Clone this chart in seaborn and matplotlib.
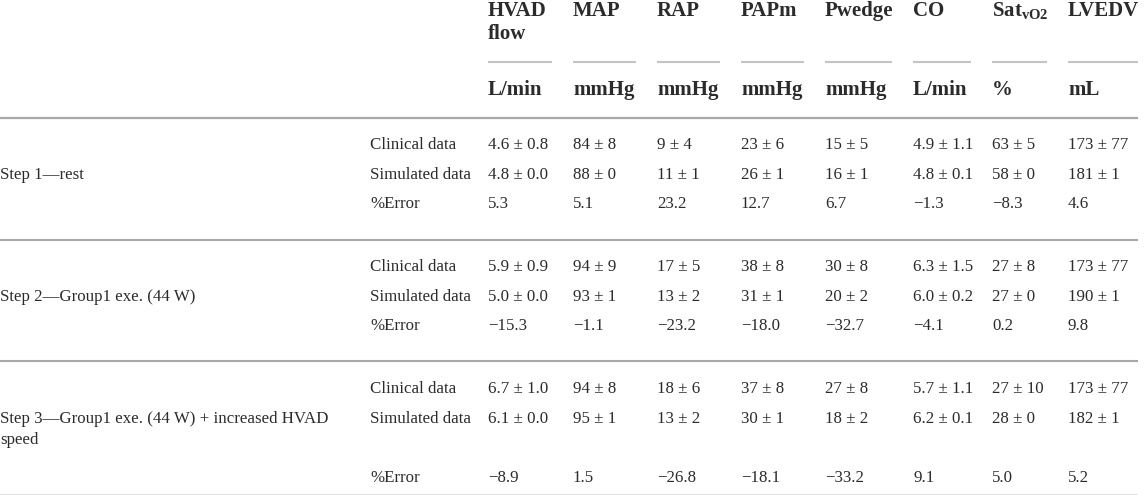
import matplotlib
matplotlib.use("Agg")
import matplotlib.pyplot as plt
import seaborn as sns

# column headers and units
columns = ["HVAD\nflow", "MAP", "RAP", "PAPm", "Pwedge", "CO", r"Sat$_{\mathbf{vO2}}$", "LVEDV"]
units = ["L/min", "mmHg", "mmHg", "mmHg", "mmHg", "L/min", "%", "mL"]
decimals = [1, 0, 0, 0, 0, 1, 0, 0]

steps = ["Step 1\u2014rest",
         "Step 2\u2014Group1 exe. (44 W)",
         "Step 3\u2014Group1 exe. (44 W) + increased HVAD\nspeed"]
row_labels = ["Clinical data", "Simulated data", "%Error"]

step1_clin_mean = [4.6, 84, 9, 23, 15, 4.9, 63, 173]
step1_clin_sd = [0.8, 8, 4, 6, 5, 1.1, 5, 77]
step1_sim_mean = [4.8, 88, 11, 26, 16, 4.8, 58, 181]
step1_sim_sd = [0.0, 0, 1, 1, 1, 0.1, 0, 1]
step1_err = [5.3, 5.1, 23.2, 12.7, 6.7, -1.3, -8.3, 4.6]

step2_clin_mean = [5.9, 94, 17, 38, 30, 6.3, 27, 173]
step2_clin_sd = [0.9, 9, 5, 8, 8, 1.5, 8, 77]
step2_sim_mean = [5.0, 93, 13, 31, 20, 6.0, 27, 190]
step2_sim_sd = [0.0, 1, 2, 1, 2, 0.2, 0, 1]
step2_err = [-15.3, -1.1, -23.2, -18.0, -32.7, -4.1, 0.2, 9.8]

step3_clin_mean = [6.7, 94, 18, 37, 27, 5.7, 27, 173]
step3_clin_sd = [1.0, 8, 6, 8, 8, 1.1, 10, 77]
step3_sim_mean = [6.1, 95, 13, 30, 18, 6.2, 28, 182]
step3_sim_sd = [0.0, 1, 2, 1, 2, 0.1, 0, 1]
step3_err = [-8.9, 1.5, -26.8, -18.1, -33.2, 9.1, 5.0, 5.2]

groups = [
    (step1_clin_mean, step1_clin_sd, step1_sim_mean, step1_sim_sd, step1_err),
    (step2_clin_mean, step2_clin_sd, step2_sim_mean, step2_sim_sd, step2_err),
    (step3_clin_mean, step3_clin_sd, step3_sim_mean, step3_sim_sd, step3_err),
]

# layout (pixel coordinates)
col_x = [488, 573, 657, 741, 825, 913, 992, 1068]
label_x = 370
right_edge = 1138
group_top = [117, 239, 360]
group_bottom = [239, 360, 494]
row_offsets = [[28, 58, 87], [28, 58, 87], [29, 59, 118]]

sns.set_theme(style="white")
plt.rcParams["font.family"] = ["Liberation Serif", "DejaVu Serif"]
plt.rcParams["mathtext.fontset"] = "custom"
plt.rcParams["mathtext.rm"] = "Liberation Serif"
plt.rcParams["mathtext.bf"] = "Liberation Serif:bold"

text_col = "#2b2b2b"
line_col = "#a8a8a8"
body_fs = 12.2
head_fs = 15

fig = plt.figure(figsize=(11.45, 4.95), dpi=100)
ax = fig.add_axes([0, 0, 1, 1])
ax.set_xlim(0, 1145)
ax.set_ylim(495, 0)
ax.axis("off")


def fmt(v, d):
    s = f"{abs(v):.{d}f}"
    return ("\u2212" + s) if v < 0 else s


# header
for i, (name, unit) in enumerate(zip(columns, units)):
    for k, part in enumerate(name.split("\n")):
        ax.text(col_x[i], 11 + k * 23, part, fontsize=head_fs, fontweight="bold",
                color=text_col, va="center", ha="left")
    end = col_x[i + 1] - 21 if i + 1 < len(col_x) else right_edge
    ax.plot([col_x[i], end], [61.5, 61.5], color="#c4c4c4", lw=1.5,
            solid_capstyle="butt")
    ax.text(col_x[i], 90, unit, fontsize=head_fs, fontweight="bold",
            color=text_col, va="center", ha="left")

ax.plot([0, right_edge], [117.5, 117.5], color=line_col, lw=1.6,
        solid_capstyle="butt")

# body
for g, (cm, cs, sm, ss, err) in enumerate(groups):
    ys = [group_top[g] + o for o in row_offsets[g]]
    for k, part in enumerate(steps[g].split("\n")):
        ax.text(0, ys[1] + k * 21, part, fontsize=body_fs, color=text_col,
                va="center", ha="left")
    for r, lab in enumerate(row_labels):
        ax.text(label_x, ys[r], lab, fontsize=body_fs, color=text_col,
                va="center", ha="left")
    for i in range(len(col_x)):
        d = decimals[i]
        cells = [f"{fmt(cm[i], d)} \u00b1 {fmt(cs[i], d)}",
                 f"{fmt(sm[i], d)} \u00b1 {fmt(ss[i], d)}",
                 fmt(err[i], 1)]
        for r, c in enumerate(cells):
            ax.text(col_x[i], ys[r], c, fontsize=body_fs, color=text_col,
                    va="center", ha="left")
    lc = line_col if g < 2 else "#e2e2e2"
    ax.plot([0, right_edge], [group_bottom[g] + 0.5] * 2, color=lc, lw=1.5,
            solid_capstyle="butt")

fig.savefig("out.png", dpi=100)
